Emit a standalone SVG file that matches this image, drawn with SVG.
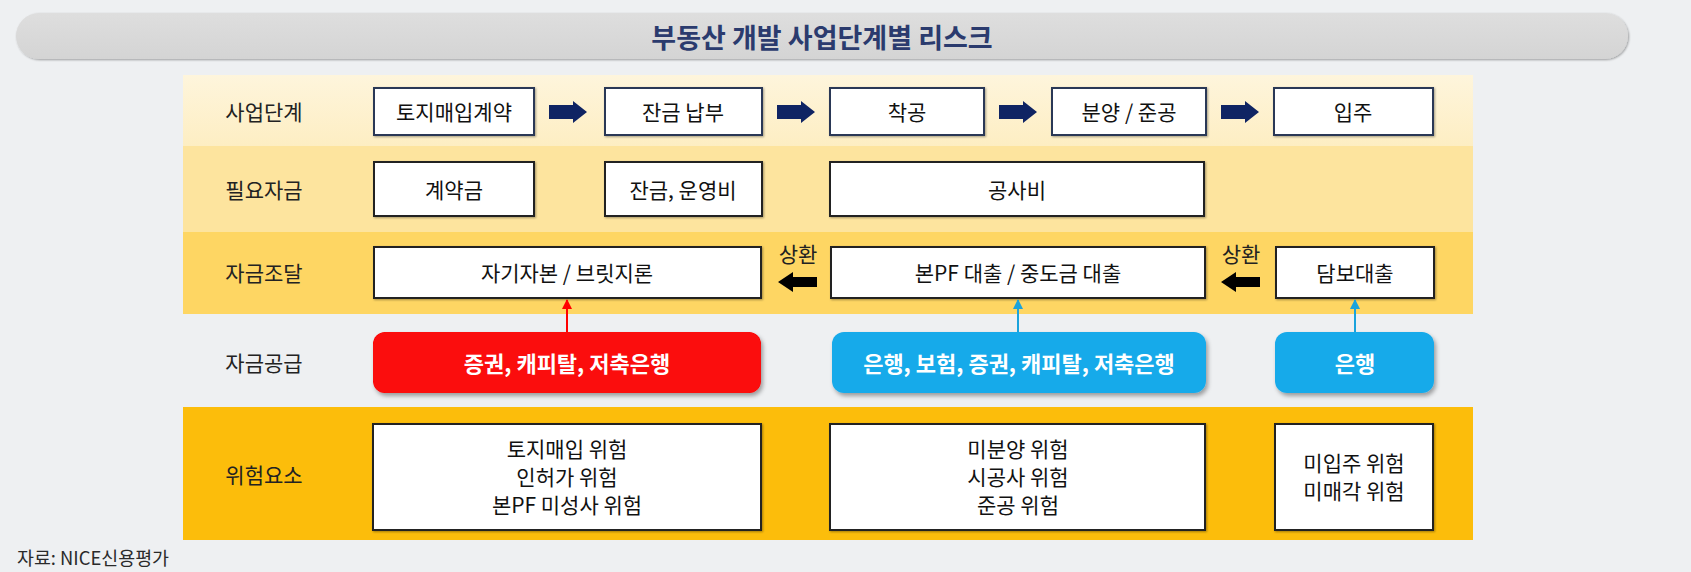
<svg xmlns="http://www.w3.org/2000/svg" width="1691" height="572" viewBox="0 0 1691 572">
<style>
text{font-family:"Noto Sans CJK KR","Noto Sans",sans-serif;dominant-baseline:central;text-anchor:middle;}
.lbl{font-size:21px;fill:#222;}
.bt{font-size:21px;fill:#111;}
.box1{fill:#fff;stroke:#2b3857;stroke-width:2;}
.box{fill:#fff;stroke:#222;stroke-width:2;}
.sup{font-size:22px;font-weight:bold;fill:#fff;}
.navy{fill:#0f2463;}
.blk{fill:#000;}
</style>
<defs>
<filter id="sh" x="-10%" y="-20%" width="120%" height="150%">
<feDropShadow dx="2" dy="3" stdDeviation="2" flood-color="#000" flood-opacity="0.35"/>
</filter>
<filter id="sh2" x="-5%" y="-10%" width="110%" height="130%">
<feDropShadow dx="1" dy="1" stdDeviation="0.8" flood-color="#000" flood-opacity="0.35"/>
</filter>
<linearGradient id="g1" x1="0" y1="0" x2="0" y2="1">
<stop offset="0" stop-color="#fef5dc"/>
<stop offset="1" stop-color="#fdeec3"/>
</linearGradient>
<linearGradient id="tg" x1="0" y1="0" x2="0" y2="1">
<stop offset="0" stop-color="#dedede"/>
<stop offset="1" stop-color="#d4d4d4"/>
</linearGradient>
<marker id="mr" viewBox="0 0 10 10" refX="9" refY="5" markerWidth="5" markerHeight="5" orient="auto">
<path d="M0,0 L10,5 L0,10 z" fill="#ff0000"/>
</marker>
<marker id="mb" viewBox="0 0 10 10" refX="9" refY="5" markerWidth="5" markerHeight="5" orient="auto">
<path d="M0,0 L10,5 L0,10 z" fill="#1aa3dc"/>
</marker>
</defs>
<rect width="1691" height="572" fill="#eef0f2"/>
<g id="title">
<rect x="16" y="13" width="1612" height="46" rx="23" fill="url(#tg)" filter="url(#sh2)"/>
<text x="822" y="36" style="font-size:27px;font-weight:bold;fill:#2b3b6e;">부동산 개발 사업단계별 리스크</text>
</g>
<g id="bands">
<rect x="183" y="75" width="1290" height="71" fill="url(#g1)"/>
<rect x="183" y="146" width="1290" height="86" fill="#fde49e"/>
<rect x="183" y="232" width="1290" height="82" fill="#fed663"/>
<rect x="183" y="407" width="1290" height="133" fill="#fcbd0b"/>
</g>
<g id="row-labels">
<text class="lbl" x="264" y="111">사업단계</text>
<text class="lbl" x="264" y="189">필요자금</text>
<text class="lbl" x="264" y="272">자금조달</text>
<text class="lbl" x="264" y="362">자금공급</text>
<text class="lbl" x="264" y="474">위험요소</text>
</g>
<g id="stage-1"><rect class="box1" x="374" y="88" width="160" height="47" filter="url(#sh2)"/><text class="bt" x="454" y="111">토지매입계약</text></g>
<g id="stage-2"><rect class="box1" x="605" y="88" width="157" height="47" filter="url(#sh2)"/><text class="bt" x="683" y="111">잔금 납부</text></g>
<g id="stage-3"><rect class="box1" x="830" y="88" width="154" height="47" filter="url(#sh2)"/><text class="bt" x="907" y="111">착공</text></g>
<g id="stage-4"><rect class="box1" x="1052" y="88" width="154" height="47" filter="url(#sh2)"/><text class="bt" x="1129" y="111">분양 / 준공</text></g>
<g id="stage-5"><rect class="box1" x="1274" y="88" width="159" height="47" filter="url(#sh2)"/><text class="bt" x="1353" y="111">입주</text></g>
<g id="need-1"><rect class="box" x="374" y="162" width="160" height="54" filter="url(#sh2)"/><text class="bt" x="454" y="189">계약금</text></g>
<g id="need-2"><rect class="box" x="605" y="162" width="157" height="54" filter="url(#sh2)"/><text class="bt" x="683" y="189">잔금, 운영비</text></g>
<g id="need-3"><rect class="box" x="830" y="162" width="374" height="54" filter="url(#sh2)"/><text class="bt" x="1017" y="189">공사비</text></g>
<g id="fund-1"><rect class="box" x="374" y="247" width="387" height="51" filter="url(#sh2)"/><text class="bt" x="567" y="272">자기자본 / 브릿지론</text></g>
<g id="fund-2"><rect class="box" x="831" y="247" width="374" height="51" filter="url(#sh2)"/><text class="bt" x="1018" y="272">본PF 대출 / 중도금 대출</text></g>
<g id="fund-3"><rect class="box" x="1276" y="247" width="158" height="51" filter="url(#sh2)"/><text class="bt" x="1355" y="272">담보대출</text></g>
<g id="supply-1"><rect x="373" y="332" width="388" height="61" rx="12" fill="#fb0707" filter="url(#sh)"/><text class="sup" x="567" y="362">증권, 캐피탈, 저축은행</text></g>
<g id="supply-2"><rect x="832" y="332" width="374" height="61" rx="12" fill="#19aaea" filter="url(#sh)"/><text class="sup" x="1019" y="362">은행, 보험, 증권, 캐피탈, 저축은행</text></g>
<g id="supply-3"><rect x="1275" y="332" width="159" height="61" rx="12" fill="#19aaea" filter="url(#sh)"/><text class="sup" x="1355" y="362">은행</text></g>
<g id="risk-1"><rect class="box" x="373" y="424" width="388" height="106" filter="url(#sh2)"/>
<text class="bt" x="567" y="448">토지매입 위험</text><text class="bt" x="567" y="476">인허가 위험</text><text class="bt" x="567" y="504">본PF 미성사 위험</text></g>
<g id="risk-2"><rect class="box" x="830" y="424" width="375" height="106" filter="url(#sh2)"/>
<text class="bt" x="1018" y="448">미분양 위험</text><text class="bt" x="1018" y="476">시공사 위험</text><text class="bt" x="1018" y="504">준공 위험</text></g>
<g id="risk-3"><rect class="box" x="1275" y="424" width="158" height="106" filter="url(#sh2)"/>
<text class="bt" x="1354" y="462">미입주 위험</text><text class="bt" x="1354" y="490">미매각 위험</text></g>
<g id="connectors">
<path class="navy" d="M549,105 h24 v-4 l14,11 l-14,11 v-4 h-24 z"/>
<path class="navy" d="M777,105 h24 v-4 l14,11 l-14,11 v-4 h-24 z"/>
<path class="navy" d="M999,105 h24 v-4 l14,11 l-14,11 v-4 h-24 z"/>
<path class="navy" d="M1221,105 h24 v-4 l14,11 l-14,11 v-4 h-24 z"/>
<path class="blk" d="M817,277 h-24 v-5 l-15,10 l15,10 v-5 h24 z"/>
<path class="blk" d="M1260,277 h-24 v-5 l-15,10 l15,10 v-5 h24 z"/>
<text class="lbl" x="798" y="253">상환</text>
<text class="lbl" x="1241" y="253">상환</text>
<line x1="567" y1="332" x2="567" y2="300" stroke="#ff0000" stroke-width="2" marker-end="url(#mr)"/>
<line x1="1018" y1="332" x2="1018" y2="300" stroke="#1aa3dc" stroke-width="2" marker-end="url(#mb)"/>
<line x1="1355" y1="332" x2="1355" y2="300" stroke="#1aa3dc" stroke-width="2" marker-end="url(#mb)"/>
</g>
<text x="17" y="557" textLength="152" lengthAdjust="spacingAndGlyphs" style="font-size:18px;fill:#2a2a2a;text-anchor:start;">자료: NICE신용평가</text>
</svg>
